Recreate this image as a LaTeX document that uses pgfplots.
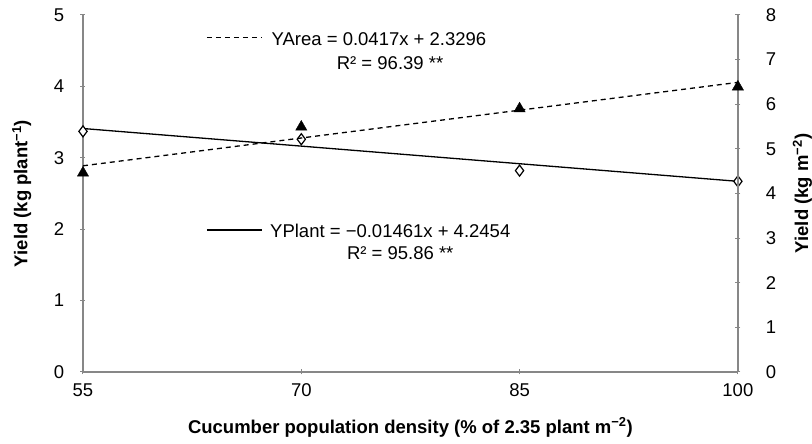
\documentclass[border=0pt]{standalone}
\usepackage{pgfplots}
\pgfplotsset{compat=1.18}
\usepackage{fontspec}
\setmainfont{Liberation Sans}
\definecolor{axisgray}{HTML}{878787}
\begin{document}
\fontsize{18.5}{22}\selectfont
\begin{tikzpicture}
\pgfplotsset{
  every axis/.append style={
    scale only axis, width=655pt, height=357pt,
    xmin=55, xmax=100,
    axis line style={-, draw=axisgray, line width=1.3pt},
    every non boxed x axis/.append style={x axis line style={-}},
    every non boxed y axis/.append style={y axis line style={-}},
    tick style={draw=axisgray, line width=1pt},
    tick align=outside, major tick length=5pt,
    /pgf/number format/assume math mode=true,
    font=\fontsize{18.5}{22}\selectfont,
    clip=false,
  }
}
% left axis: yield per plant
\begin{axis}[
    axis x line=bottom, axis y line=left,
    ymin=0, ymax=5, ytick={0,1,2,3,4,5},
    xtick={55,70,85,100},
    yticklabel style={xshift=-10pt},
    xticklabel style={yshift=-3pt},
    xlabel={Cucumber population density (\% of 2.35 plant m\textsuperscript{−2})},
    ylabel={Yield (kg plant\textsuperscript{−1})},
    xlabel style={at={(axis description cs:0.5,-0.155)}, anchor=center, font=\fontsize{18.5}{22}\selectfont\bfseries},
    ylabel style={at={(axis description cs:-0.0935,0.5)}, anchor=center, inner sep=0pt, font=\fontsize{18.5}{22}\selectfont\bfseries},
  ]
  % white margins left of the y label and above the plot, as in the reference
  \path (rel axis cs:0,0) ++(-83pt,0pt);
  \path (rel axis cs:0,1) ++(0pt,15pt);
  \addplot[black, line width=1.3pt] coordinates {(55,3.41) (100,2.67)};
  \addplot[only marks, mark=diamond*, mark size=5.5pt, mark options={fill=white, draw=black, line width=1.2pt}]
    coordinates {(55,3.37) (70,3.26) (85,2.82) (100,2.67)};
  % trendline labels
  \draw[black, line width=1pt, dash pattern=on 5pt off 4pt] (axis cs:63.52,4.68) -- (axis cs:67.30,4.68);
  \node[anchor=west, inner sep=0pt] at (axis cs:67.95,4.66) {YArea = 0.0417x + 2.3296};
  \node[inner sep=0pt] at (axis cs:76.1,4.33) {R² = 96.39 **};
  \draw[black, line width=1.5pt] (axis cs:63.52,1.99) -- (axis cs:67.30,1.99);
  \node[anchor=west, inner sep=0pt] at (axis cs:67.85,1.97) {YPlant = −0.01461x + 4.2454};
  \node[inner sep=0pt] at (axis cs:76.8,1.67) {R² = 95.86 **};
\end{axis}
% right axis: yield per area
\begin{axis}[
    axis x line=none, axis y line=right,
    ymin=0, ymax=8, ytick={0,1,2,3,4,5,6,7,8},
    yticklabel style={xshift=19pt},
    ylabel={Yield (kg m\textsuperscript{−2})},
    ylabel style={at={(axis description cs:1.0985,0.5)}, anchor=center, rotate=0, inner sep=0pt, font=\fontsize{18.5}{22}\selectfont\bfseries},
  ]
  \addplot[black, line width=1.3pt, dash pattern=on 5pt off 4pt] coordinates {(55,4.62) (100,6.49)};
  \addplot[only marks, mark=triangle*, mark size=6.5pt, mark options={fill=black, draw=black}]
    coordinates {(55,4.46) (70,5.49) (85,5.90) (100,6.39)};
\end{axis}
\end{tikzpicture}
\end{document}
